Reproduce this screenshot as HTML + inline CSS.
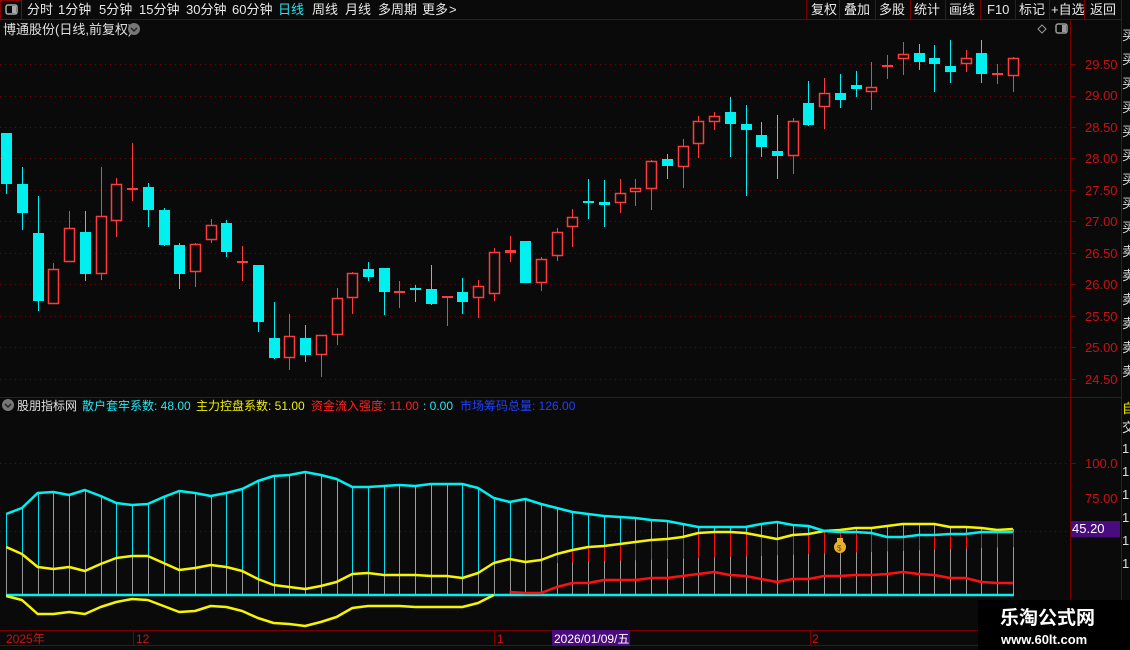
<!DOCTYPE html>
<html><head><meta charset="utf-8">
<style>
html,body{margin:0;padding:0;background:#0a0a0a;width:1130px;height:650px;overflow:hidden}
svg{display:block}
text{font-family:"Liberation Sans","Noto Sans CJK SC",sans-serif}
</style></head>
<body>
<svg id="s" width="1130" height="650" xmlns="http://www.w3.org/2000/svg">
<rect width="1130" height="650" fill="#0a0a0a"/>
<line x1="0" y1="19.5" x2="1122" y2="19.5" stroke="#7a0000"/>
<rect x="0.5" y="0.5" width="21" height="19" fill="none" stroke="#8b0000"/>
<rect x="6" y="5" width="11" height="9" rx="2" fill="none" stroke="#aaa" stroke-width="1.5"/>
<rect x="12" y="6" width="4" height="7" fill="#aaa"/>
<g font-size="13" fill="#e8e8e8">
<text x="27" y="14">分时</text><text x="58" y="14">1分钟</text><text x="99" y="14">5分钟</text>
<text x="139" y="14">15分钟</text><text x="186" y="14">30分钟</text><text x="232" y="14">60分钟</text>
<text x="278" y="14" fill="#22e6f0">日线</text><text x="312" y="14">周线</text><text x="345" y="14">月线</text>
<text x="378" y="14">多周期</text><text x="422" y="14">更多</text><text x="449" y="14">&gt;</text>
<text x="811" y="14">复权</text><text x="844" y="14">叠加</text><text x="879" y="14">多股</text>
<text x="914" y="14">统计</text><text x="949" y="14">画线</text><text x="987" y="14">F10</text>
<text x="1019" y="14">标记</text><text x="1051" y="14">+自选</text><text x="1090" y="14">返回</text>
</g>
<g stroke="#7a0000">
<line x1="806.5" y1="0" x2="806.5" y2="19"/><line x1="839.5" y1="0" x2="839.5" y2="19"/>
<line x1="875.5" y1="0" x2="875.5" y2="19"/><line x1="910.5" y1="0" x2="910.5" y2="19"/>
<line x1="945.5" y1="0" x2="945.5" y2="19"/><line x1="980.5" y1="0" x2="980.5" y2="19"/>
<line x1="1015.5" y1="0" x2="1015.5" y2="19"/><line x1="1049.5" y1="0" x2="1049.5" y2="19"/>
<line x1="1084.5" y1="0" x2="1084.5" y2="19"/><line x1="1121.5" y1="0" x2="1121.5" y2="650"/>
<line x1="1070.5" y1="19" x2="1070.5" y2="630"/>
<line x1="0" y1="397.5" x2="1121" y2="397.5"/>
<line x1="0" y1="630.5" x2="1121" y2="630.5"/>
<line x1="0" y1="645.5" x2="1121" y2="645.5"/>
</g>
<text x="3" y="34" font-size="13" fill="#e0e0e0">博通股份(日线,前复权)</text>
<circle cx="134" cy="29" r="6" fill="#777"/><path d="M131 28l3 3 3-3" stroke="#222" fill="none" stroke-width="1.5"/>
<path d="M1042 25l4 4-4 4-4-4z" fill="none" stroke="#999"/>
<rect x="1056" y="24" width="11" height="9" rx="2" fill="none" stroke="#999" stroke-width="1.5"/><rect x="1062" y="25" width="4" height="7" fill="#999"/>
<g font-size="13" fill="#ddd">
<text x="1122" y="40">买</text><text x="1122" y="64">买</text><text x="1122" y="88">买</text><text x="1122" y="112">买</text>
<text x="1122" y="136">买</text><text x="1122" y="160">买</text><text x="1122" y="184">买</text><text x="1122" y="208">买</text>
<text x="1122" y="232">买</text><text x="1122" y="256">卖</text><text x="1122" y="280">卖</text><text x="1122" y="304">卖</text>
<text x="1122" y="328">卖</text><text x="1122" y="352">卖</text><text x="1122" y="376">卖</text>
<text x="1122" y="413" fill="#ee0">自</text><text x="1122" y="432">交</text>
<text x="1122" y="453">1</text><text x="1122" y="476">1</text><text x="1122" y="499">1</text><text x="1122" y="522">1</text><text x="1122" y="545">1</text><text x="1122" y="568">1</text>
</g>
<g id="grid"></g>
<g font-size="13" fill="#cc1010">
<text x="1085" y="69">29.50</text><text x="1085" y="100">29.00</text><text x="1085" y="132">28.50</text>
<text x="1085" y="163">28.00</text><text x="1085" y="195">27.50</text><text x="1085" y="226">27.00</text>
<text x="1085" y="258">26.50</text><text x="1085" y="289">26.00</text><text x="1085" y="321">25.50</text>
<text x="1085" y="352">25.00</text><text x="1085" y="384">24.50</text>
<text x="1085" y="468">100.0</text><text x="1085" y="503">75.00</text>
</g>
<rect x="1071" y="521" width="49" height="16" fill="#4a0a80"/>
<text x="1072" y="533" font-size="13" fill="#fff">45.20</text>
<circle cx="8" cy="405" r="6" fill="#777"/><path d="M5 404l3 3 3-3" stroke="#222" fill="none" stroke-width="1.5"/>
<g font-size="12">
<text x="17" y="410" fill="#e0e0e0">股朋指标网</text>
<text x="82" y="410" fill="#22e6f0">散户套牢系数: 48.00</text>
<text x="196" y="410" fill="#f0f000">主力控盘系数: 51.00</text>
<text x="311" y="410" fill="#ff2020">资金流入强度: 11.00</text>
<text x="423" y="410" fill="#22e6f0">: 0.00</text>
<text x="460" y="410" fill="#2040ff">市场筹码总量: 126.00</text>
</g>
<g id="ind"></g>
<g id="cand"></g>
<circle cx="840" cy="547" r="6" fill="#e8b030"/><rect x="837" y="538" width="6" height="4" fill="#e8b030"/>
<text x="837" y="551" font-size="8" fill="#7a4a00">$</text>
<g stroke="#7a0000"><line x1="133.5" y1="630" x2="133.5" y2="645"/><line x1="494.5" y1="630" x2="494.5" y2="645"/><line x1="810.5" y1="630" x2="810.5" y2="645"/></g>
<g font-size="12" fill="#cc1010"><text x="6" y="643">2025年</text><text x="136" y="643">12</text><text x="497" y="643">1</text><text x="812" y="643">2</text></g>
<rect x="552" y="630" width="78" height="16" fill="#4a0a80"/>
<text x="554" y="643" font-size="12" fill="#fff">2026/01/09/五</text>
<rect x="978" y="600" width="152" height="50" fill="#000"/>
<text x="1000" y="624" font-size="19" font-weight="bold" fill="#fff">乐淘公式网</text>
<text x="1001" y="644" font-size="13" font-weight="bold" fill="#fff" font-family="Liberation Serif,serif">www.60lt.com</text>
</svg>
<script>
(function(){
var NS="http://www.w3.org/2000/svg";
function el(p,t,a){var e=document.createElementNS(NS,t);for(var k in a)e.setAttribute(k,a[k]);p.appendChild(e);return e;}
var grid=document.getElementById('grid');
[64,96,127,158,190,221,253,284,316,347,379,463,531].forEach(function(y){
 el(grid,'line',{x1:0,y1:y+.5,x2:1070,y2:y+.5,stroke:'#7a0000','stroke-dasharray':'1,4'});
 el(grid,'line',{x1:1070,y1:y+.5,x2:1076,y2:y+.5,stroke:'#7a0000'});
});
var C=[[0,133,184,133,194],[0,184,213,167,230],[0,233,301,196,311],[1,269,304,263,304],[1,228,262,211,262],
[0,232,274,211,281],[1,216,274,167,280],[1,184,221,178,237],[1,188,190,143,201],[0,187,210,183,227],
[0,210,245,208,246],[0,245,274,243,289],[1,244,272,243,287],[1,225,240,219,243],[0,223,252,220,257],
[1,261,263,246,281],[0,265,322,265,332],[0,338,358,302,359],[1,336,358,314,370],[0,338,355,325,362],
[1,335,355,335,377],[1,298,335,288,345],[1,273,298,272,314],[0,269,277,262,281],[0,268,292,268,315],
[1,291,293,281,308],[0,288,290,285,302],[0,289,304,265,305],[1,296,298,296,326],[0,292,302,278,314],
[1,286,298,280,318],[1,252,294,248,301],[1,250,253,236,262],[0,241,283,241,283],[1,259,283,257,291],
[1,232,256,228,261],[1,217,227,209,247],[0,201,203,179,219],[0,202,205,180,227],[1,193,203,179,213],
[1,188,192,179,206],[1,161,189,160,210],[0,159,166,154,179],[1,146,167,139,188],[1,121,144,116,158],
[1,116,122,112,130],[0,112,124,97,157],[0,124,130,105,196],[0,135,147,122,157],[0,151,156,115,179],
[1,121,156,118,174],[0,103,125,81,126],[1,93,107,78,129],[0,93,100,74,108],[0,85,89,71,97],
[1,87,92,62,110],[1,65,67,55,79],[1,54,59,42,75],[0,53,62,44,70],[0,58,64,45,92],
[0,66,72,40,83],[1,58,64,50,72],[0,53,74,40,83],[1,73,75,64,84],[1,58,76,57,92]];
var cg=document.getElementById('cand');
function X(i){return 6.2+i*15.73;}
C.forEach(function(c,i){var x=Math.round(X(i))+.5;var col=c[0]?'#ff3b3b':'#00f0f0';
 el(cg,'line',{x1:x,y1:c[3],x2:x,y2:c[4],stroke:col,'stroke-width':1});
 var h=Math.max(c[2]-c[1],2);
 if(c[0]){ if(h<=3) el(cg,'rect',{x:x-5.5,y:c[1],width:11,height:h,fill:col});
   else el(cg,'rect',{x:x-5,y:c[1]+.5,width:10,height:h-1,fill:'#0a0a0a',stroke:col,'stroke-width':1.5});}
 else el(cg,'rect',{x:x-5.5,y:c[1],width:11,height:h,fill:col});
});
var cy=[514,508,493,492,495,490,496,503,505,504,497,491,493,496,493,489,481,476,475,472,475,479,487,487,486,485,486,484,484,484,488,498,502,499,
504,508,512,514,516,517,518,520,521,524,527,527,527,527,524,522,525,526,531,532,532,533,537,537,535,535,534,534,532,532,532];
var yu=[547,554,567,569,567,571,564,558,556,556,563,570,568,565,567,571,579,585,587,589,586,582,574,573,575,575,575,576,576,578,573,563,559,562,
560,554,550,547,546,544,542,540,539,537,533,532,532,533,536,539,535,534,531,530,528,528,526,524,524,524,527,527,528,530,529];
var yl=[596,600,614,614,612,614,607,602,599,600,606,612,611,606,607,611,618,623,624,626,622,617,608,606,606,606,607,607,607,607,603,595];
var rl=[null,null,null,null,null,null,null,null,null,null,null,null,null,null,null,null,null,null,null,null,null,null,null,null,null,null,null,null,null,null,null,null,592,593,
593,587,583,583,580,580,580,578,578,576,574,572,575,576,579,582,579,579,576,576,575,575,574,572,574,575,578,578,582,583,583];
var ig=document.getElementById('ind');var base=595;
for(var i=0;i<65;i++){var x=Math.round(X(i))+.5;var tp=Math.min(cy[i],yu[i]);
 el(ig,'line',{x1:x,y1:base,x2:x,y2:tp,stroke:'#9a9a9a'});
 if(cy[i]<yu[i]) el(ig,'line',{x1:x,y1:yu[i],x2:x,y2:cy[i],stroke:'#00e0f0'});
 if(i>=35){var rb=563-(i-35)*16/29; el(ig,'line',{x1:x,y1:Math.max(cy[i],yu[i]),x2:x,y2:rb,stroke:'#ff1010'});}
}
function pl(arr,col){var p=[];arr.forEach(function(v,i){if(v!=null)p.push(X(i).toFixed(1)+','+v);});
 el(ig,'polyline',{points:p.join(' '),fill:'none',stroke:col,'stroke-width':2.5,'stroke-linejoin':'round'});}
el(ig,'line',{x1:6,y1:base,x2:1014,y2:base,stroke:'#00f0f0','stroke-width':2.5});
pl(rl,'#ff1010');
pl(yl,'#f5f500');
pl(yu,'#f5f500');
pl(cy,'#00f0f0');
})();
</script>
</body></html>
